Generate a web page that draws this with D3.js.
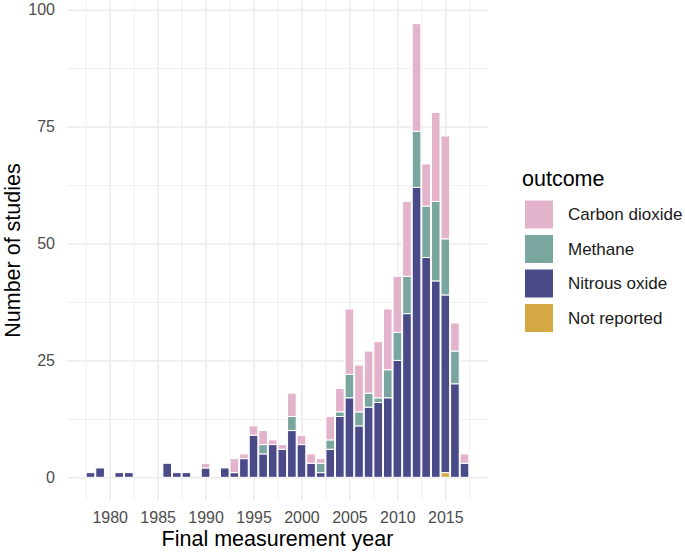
<!DOCTYPE html>
<html lang="en">
<head>
<meta charset="utf-8">
<title>studies by year</title>
<script src="https://cdn.jsdelivr.net/npm/d3@7"></script>
<style>
body { margin: 0; background: #fff; }
text { font-family: "Liberation Sans", Arial, Helvetica, sans-serif; }
</style>
</head>
<body>
<script>
// data
var years = [1978,1979,1980,1981,1982,1983,1984,1985,1986,1987,1988,1989,
             1990,1991,1992,1993,1994,1995,1996,1997,1998,1999,
             2000,2001,2002,2003,2004,2005,2006,2007,2008,2009,
             2010,2011,2012,2013,2014,2015,2016,2017];
var nitrous = [1,2,0,1,1,0,0,0,3,1,1,0,
               2,0,2,1,4,9,5,7,6,10,
               7,3,1,6,13,17,11,15,16,17,
               25,35,62,47,42,38,20,3];
var methane = [0,0,0,0,0,0,0,0,0,0,0,0,
               0,0,0,0,0,0,2,0,0,3,
               0,0,2,2,1,5,3,3,1,6,
               6,8,12,11,17,12,7,0];
var carbon = [0,0,0,0,0,0,0,0,0,0,0,0,
              1,0,0,3,1,2,3,1,1,5,
              2,2,1,5,5,14,10,9,12,13,
              12,16,23,9,19,22,6,2];
var notReported = [0,0,0,0,0,0,0,0,0,0,0,0,
                   0,0,0,0,0,0,0,0,0,0,
                   0,0,0,0,0,0,0,0,0,0,
                   0,0,0,0,0,1,0,0];
var outcomes = ["Carbon dioxide", "Methane", "Nitrous oxide", "Not reported"];
var colors = ["#E3B3CB", "#79A79F", "#4A4A88", "#D4A843"];
var yTicks = [0, 25, 50, 75, 100];
var yMinor = [12.5, 37.5, 62.5, 87.5];
var xTicks = [1980, 1985, 1990, 1995, 2000, 2005, 2010, 2015];
var xMinor = [1977.5, 1982.5, 1987.5, 1992.5, 1997.5, 2002.5, 2007.5, 2012.5, 2017.5];

var width = 685, height = 555;
// panel edges
var pLeft = 67, pRight = 488, pTop = 1, pBottom = 500;

var svg = d3.select("body").append("svg")
    .attr("width", width)
    .attr("height", height);

// table for stacking
var rows = years.map(function(yr, i) {
    return {
        year: yr,
        "Carbon dioxide": carbon[i],
        "Methane": methane[i],
        "Nitrous oxide": nitrous[i],
        "Not reported": notReported[i]
    };
});

var x = d3.scaleLinear().domain([1975.55, 2019.45]).range([pLeft, pRight]);
var y = d3.scaleLinear().domain([-4.85, 101.85]).range([pBottom, pTop]);
var color = d3.scaleOrdinal().domain(outcomes).range(colors);

function styleGrid(g, w) {
    g.select(".domain").remove();
    g.selectAll("line").attr("stroke", "#EBEBEB").attr("stroke-width", w);
    g.selectAll("text").attr("fill", "#4D4D4D").attr("font-size", 16)
        .style("font-family", "'Liberation Sans', Arial, sans-serif");
}

// grid (minor first, then major)
svg.append("g")
    .attr("transform", "translate(" + pLeft + ",0)")
    .call(d3.axisLeft(y).tickValues(yMinor).tickSize(-(pRight - pLeft)).tickFormat(""))
    .call(styleGrid, 0.8);
svg.append("g")
    .attr("transform", "translate(0," + pBottom + ")")
    .call(d3.axisBottom(x).tickValues(xMinor).tickSize(-(pBottom - pTop)).tickFormat(""))
    .call(styleGrid, 0.8);

svg.append("g")
    .attr("transform", "translate(" + pLeft + ",0)")
    .call(d3.axisLeft(y).tickValues(yTicks).tickSize(-(pRight - pLeft)).tickPadding(12))
    .call(styleGrid, 1.5);
svg.append("g")
    .attr("transform", "translate(0," + pBottom + ")")
    .call(d3.axisBottom(x).tickValues(xTicks).tickSize(-(pBottom - pTop)).tickPadding(11.5).tickFormat(d3.format("d")))
    .call(styleGrid, 1.5);

// stacked bars, Not reported at the bottom
var stack = d3.stack().keys(outcomes.slice().reverse());
var series = stack(rows);
var bw = (x(1) - x(0)) * 0.9;

svg.append("g").selectAll("g")
    .data(series)
    .enter().append("g")
    .attr("fill", function(d) { return color(d.key); })
    .selectAll("rect")
    .data(function(d) { return d.filter(function(p) { return p[1] > p[0]; }); })
    .enter().append("rect")
    .attr("x", function(d) { return x(d.data.year) - bw / 2; })
    .attr("width", bw)
    .attr("y", function(d) { return y(d[1]); })
    .attr("height", function(d) { return y(d[0]) - y(d[1]); })
    .attr("stroke", "#fff")
    .attr("stroke-width", 1);

// axis titles
svg.append("text")
    .attr("x", (pLeft + pRight) / 2)
    .attr("y", 546)
    .attr("text-anchor", "middle")
    .attr("font-size", 21.5)
    .attr("fill", "#000")
    .text("Final measurement year");
svg.append("text")
    .attr("transform", "translate(20," + (pTop + pBottom) / 2 + ") rotate(-90)")
    .attr("text-anchor", "middle")
    .attr("font-size", 21.5)
    .attr("fill", "#000")
    .text("Number of studies");

// legend
var legend = svg.append("g").attr("transform", "translate(522,0)");
legend.append("text")
    .attr("x", 0)
    .attr("y", 186)
    .attr("font-size", 21.5)
    .attr("fill", "#000")
    .text("outcome");
var item = legend.selectAll(".item")
    .data(outcomes)
    .enter().append("g")
    .attr("class", "item")
    .attr("transform", function(d, i) { return "translate(0," + (200 + i * 34.5) + ")"; });
item.append("rect")
    .attr("x", 2.5)
    .attr("width", 29)
    .attr("height", 29)
    .attr("fill", function(d) { return color(d); })
    .attr("stroke", "#fff")
    .attr("stroke-width", 1);
item.append("text")
    .attr("x", 46)
    .attr("y", 14.5)
    .attr("dy", "0.35em")
    .attr("font-size", 17)
    .attr("fill", "#1A1A1A")
    .text(function(d) { return d; });
</script>
</body>
</html>
